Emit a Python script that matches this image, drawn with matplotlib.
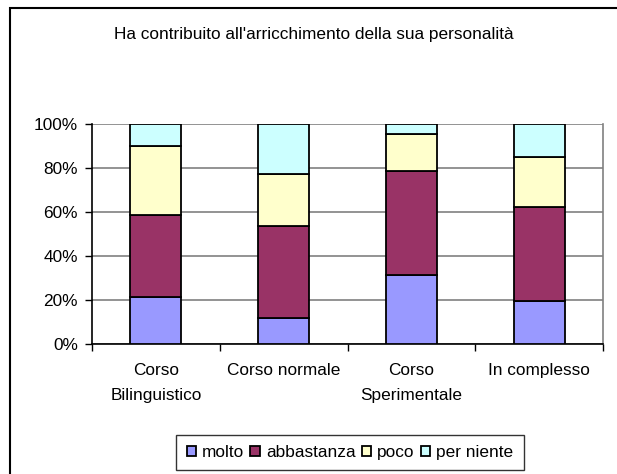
"""Stacked 100% bar chart: Ha contribuito all'arricchimento della sua personalità."""

import matplotlib
matplotlib.use("Agg")
import matplotlib.pyplot as plt
from matplotlib.patches import Rectangle
from matplotlib.ticker import FixedLocator, FuncFormatter
import numpy as np

plt.rcParams["font.family"] = ["Liberation Sans", "DejaVu Sans"]

TITLE = "Ha contribuito all'arricchimento della sua personalità"
categories = ["Corso\nBilinguistico", "Corso normale", "Corso\nSperimentale", "In complesso"]
series_names = ["molto", "abbastanza", "poco", "per niente"]
molto = [21.0, 11.6, 31.4, 19.5]
abbastanza = [37.4, 41.9, 47.3, 42.5]
poco = [31.5, 23.8, 16.7, 23.1]
per_niente = [10.1, 22.7, 4.6, 14.9]
colors = ["#9999FF", "#993366", "#FFFFCC", "#CCFFFF"]

W, H = 617, 474
FS = 12.4


def main() -> None:
    fig = plt.figure(figsize=(W / 100, H / 100), dpi=100)
    ax = fig.add_axes([92 / W, 1 - 343.5 / H, (603 - 92) / W, (343.5 - 124) / H])

    x = np.arange(len(categories))
    bottom = np.zeros(len(categories))
    handles = []
    for name, vals, col in zip(series_names, [molto, abbastanza, poco, per_niente], colors):
        bars = ax.bar(x, vals, width=0.4, bottom=bottom, color=col,
                      edgecolor="black", linewidth=1.3, label=name, zorder=3)
        handles.append(bars)
        bottom += np.array(vals)

    ax.set_xlim(-0.5, len(categories) - 0.5)
    ax.set_ylim(0, 100)

    ax.yaxis.set_major_locator(FixedLocator([0, 20, 40, 60, 80, 100]))
    ax.yaxis.set_major_formatter(FuncFormatter(lambda v, _: f"{v:.0f}%"))
    ax.tick_params(axis="y", direction="out", length=5, width=1, pad=5, labelsize=FS)
    ax.grid(axis="y", color="#808080", linewidth=1.2, zorder=0)

    ax.set_xticks(np.arange(-0.5, len(categories)), minor=False)
    ax.set_xticklabels([])
    ax.set_xticks(x, minor=True)
    ax.set_xticklabels(categories, minor=True, fontsize=FS, linespacing=1.8)
    ax.tick_params(axis="x", which="major", direction="out", length=5, width=1)
    ax.tick_params(axis="x", which="minor", length=0, pad=14)

    ax.spines["top"].set_visible(False)
    ax.spines["right"].set_color("#808080")
    ax.spines["right"].set_linewidth(1.2)
    ax.spines["left"].set_linewidth(1.2)
    ax.spines["bottom"].set_linewidth(1.2)

    fig.text(314 / W, 1 - 35 / H, TITLE, ha="center", va="center", fontsize=FS)

    leg = fig.legend(handles=handles, labels=series_names, loc="center",
                     bbox_to_anchor=(350 / W, 1 - 452.5 / H), ncol=4,
                     fontsize=FS, frameon=True, fancybox=False,
                     handlelength=0.55, handleheight=0.55, handletextpad=0.35,
                     columnspacing=0.35, borderpad=0.6, borderaxespad=0)
    leg.get_frame().set_edgecolor("black")
    leg.get_frame().set_linewidth(1.0)

    fig.patches.append(Rectangle((10 / W, -0.1), 1.2, 1.1 - 7.5 / H,
                                 transform=fig.transFigure, fill=False,
                                 edgecolor="black", linewidth=1.5))

    fig.savefig("out.png", dpi=100)


if __name__ == "__main__":
    main()
